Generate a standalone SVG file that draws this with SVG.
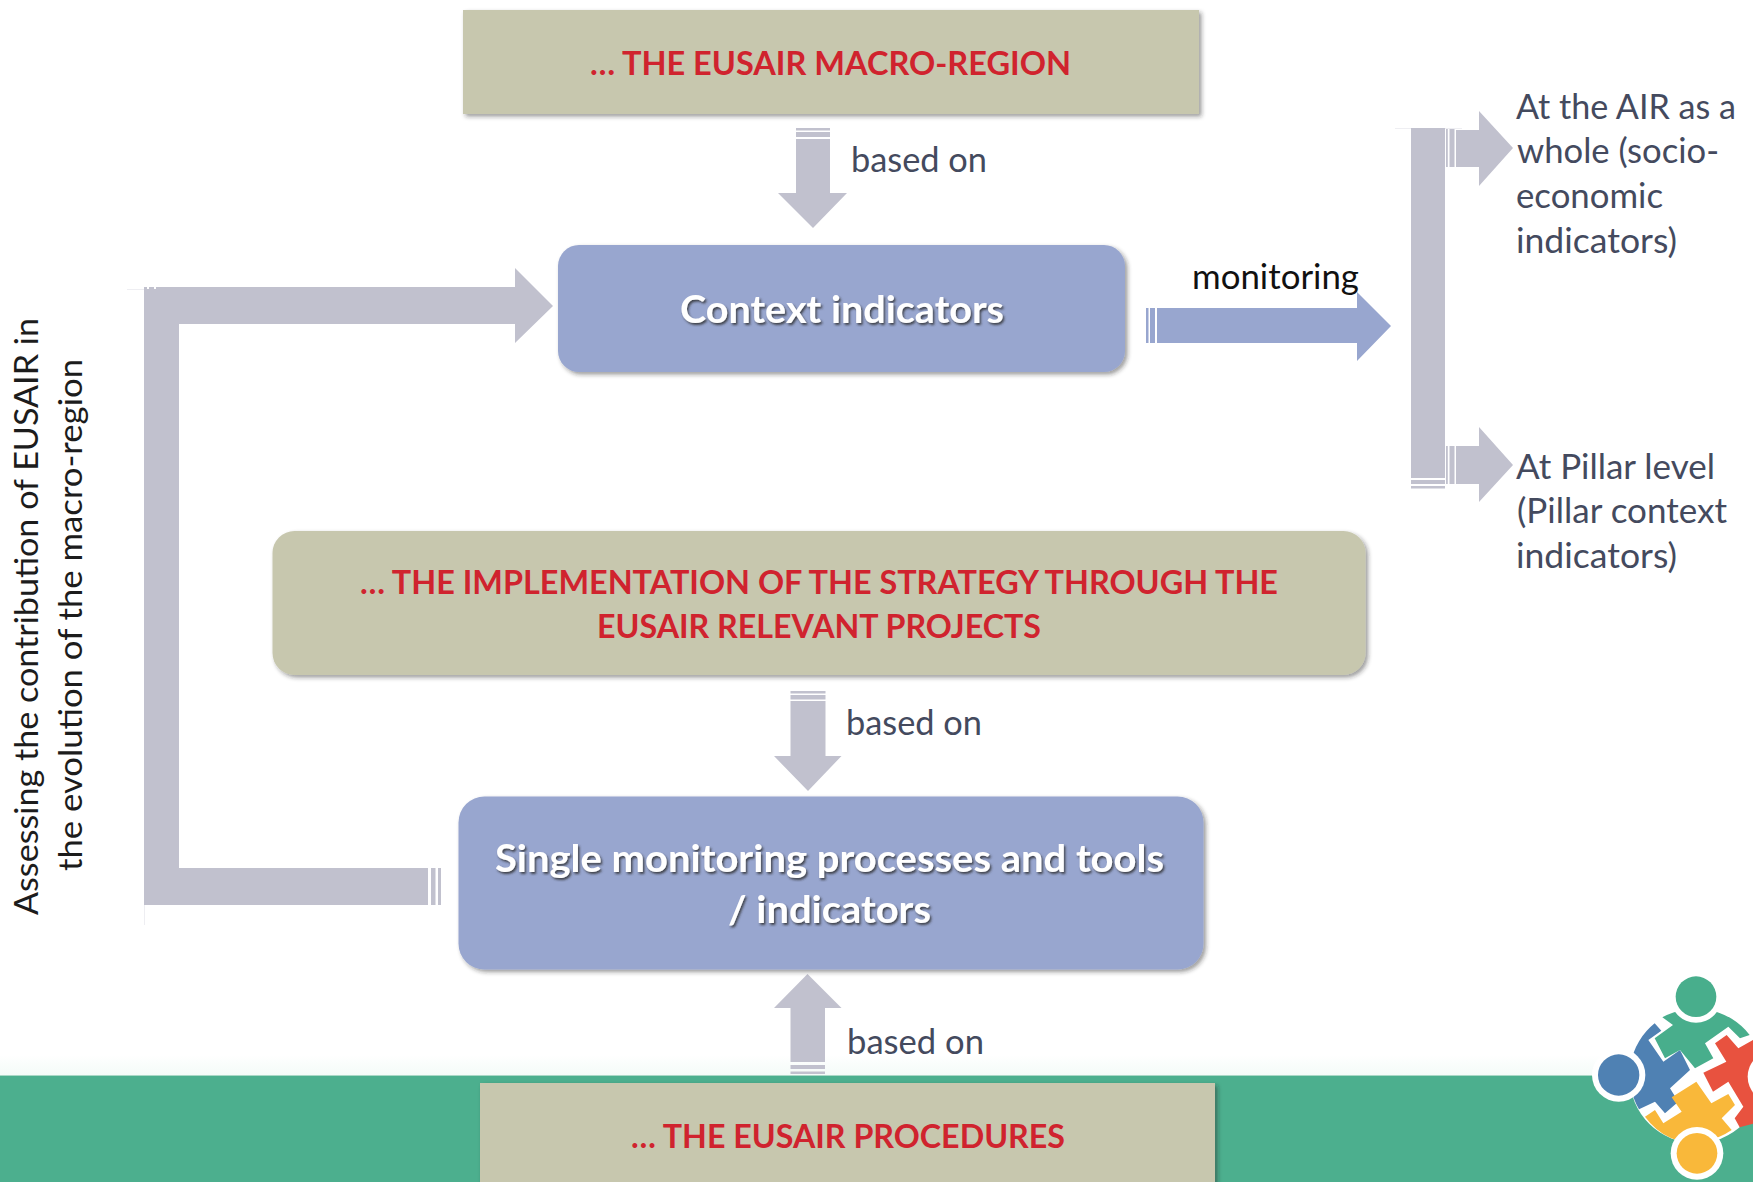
<svg xmlns="http://www.w3.org/2000/svg" width="1753" height="1182" viewBox="0 0 1753 1182">
<style>
text{font-family:Lato,"Liberation Sans",sans-serif}
.head{font-weight:700;font-size:33px;fill:#d0232e}
.white{font-weight:700;font-size:38px;fill:#fff;filter:url(#ts)}
.lab{font-size:34px;fill:#444a5e}
.blk{font-size:34px;fill:#111}
.side{font-size:33px;fill:#1c1c1c}
.ar{fill:#c1c1ce}
.ab{fill:#98a6cf}
.olive{fill:#c7c7ae;filter:url(#sh)}
.blue{fill:#98a6cf;filter:url(#sh)}
.faint{fill:#eeeef2}
</style>
<defs>
<filter id="sh" x="-5%" y="-10%" width="110%" height="120%"><feDropShadow dx="2.5" dy="2.5" stdDeviation="2" flood-color="#222" flood-opacity=".45"/></filter>
<filter id="ts" x="-5%" y="-15%" width="110%" height="130%"><feDropShadow dx="1.5" dy="2" stdDeviation="1" flood-color="#2a2a2a" flood-opacity=".8"/></filter>
<linearGradient id="pale" x1="0" y1="0" x2="0" y2="1"><stop offset="0" stop-color="#fff"/><stop offset="1" stop-color="#f4fbf8"/></linearGradient>
</defs>
<rect width="1753" height="1182" fill="#fff"/>
<g id="band">
<rect x="0" y="1055" width="1753" height="20" fill="url(#pale)"/>
<rect x="0" y="1075" width="1753" height="107" fill="#4caf8e"/>
<rect x="0" y="1075" width="1753" height="1" fill="#a9d8c6"/>
</g>
<g id="connectors">
<g id="arrow-macro-context">
<rect class="ar" x="796" y="128" width="34" height="2.5"/><rect class="ar" x="796" y="132" width="34" height="5"/>
<polygon class="ar" points="796,139 830,139 830,193 847,193 813,228 778,193 796,193"/>
<text class="lab" x="851" y="172" textLength="136" lengthAdjust="spacingAndGlyphs">based on</text>
</g>
<g id="arrow-context-monitoring">
<rect class="ab" x="1146" y="308" width="2.5" height="35"/><rect class="ab" x="1150" y="308" width="5" height="35"/>
<polygon class="ab" points="1157,308 1357,308 1357,292 1391,326 1357,361 1357,343 1157,343"/>
<text class="blk" x="1192" y="289" textLength="167" lengthAdjust="spacingAndGlyphs">monitoring</text>
</g>
<g id="arrow-branch">
<rect class="faint" x="1395" y="128" width="16" height="1"/>
<rect class="faint" x="1445" y="128" width="17" height="1"/>
<rect class="ar" x="1411" y="128" width="34" height="350"/>
<rect class="ar" x="1411" y="480" width="34" height="4"/><rect class="ar" x="1411" y="486" width="34" height="2.5"/>
<rect class="ar" x="1446" y="129" width="1.8" height="38"/><rect class="ar" x="1449.5" y="129" width="5" height="38"/>
<polygon class="ar" points="1456,130 1479,130 1479,111 1513,148 1479,186 1479,167 1456,167"/>
<rect class="ar" x="1446" y="446" width="1.8" height="38"/><rect class="ar" x="1449.5" y="446" width="5" height="38"/>
<polygon class="ar" points="1456,446 1479,446 1479,427 1513,465 1479,502 1479,484 1456,484"/>
</g>
<g id="arrow-feedback">
<rect class="faint" x="127" y="289" width="17" height="1"/>
<rect class="faint" x="144" y="905" width="1" height="20"/>
<polygon class="ar" points="144,287 515,287 515,268 553,306 515,343 515,324 179,324 179,868 428,868 428,905 144,905"/>
<rect class="ar" x="431" y="868" width="4.5" height="37"/><rect class="ar" x="438" y="868" width="3" height="37"/>
<rect x="147" y="287" width="2" height="2" fill="#fff"/><rect x="154" y="287" width="2" height="2" fill="#fff"/>
</g>
<g id="arrow-implementation-single">
<rect class="ar" x="790.500" y="691" width="35" height="2.500"/><rect class="ar" x="790.500" y="695" width="35" height="4.500"/>
<polygon class="ar" points="790.500,701 825.500,701 825.500,756 841.500,756 808,791 774,756 790.500,756"/>
<text class="lab" x="846" y="735" textLength="136" lengthAdjust="spacingAndGlyphs">based on</text>
</g>
<g id="arrow-procedures-single">
<polygon class="ar" points="790.500,1062 825,1062 825,1008 841.500,1008 807.500,974 774,1008 790.500,1008"/>
<rect class="ar" x="790.500" y="1065" width="34.500" height="4"/><rect class="ar" x="790.500" y="1071.500" width="34.500" height="2.500"/>
<text class="lab" x="847" y="1054" textLength="137" lengthAdjust="spacingAndGlyphs">based on</text>
</g>
</g>
<g id="node-macro-region">
<rect class="olive" x="463" y="10" width="736" height="104"/>
<text class="head" x="590" y="75" textLength="481" lengthAdjust="spacingAndGlyphs">… THE EUSAIR MACRO-REGION</text>
</g>
<g id="node-context">
<rect class="blue" x="558" y="245" width="567" height="127" rx="21"/>
<text class="white" x="680" y="323" textLength="324" lengthAdjust="spacingAndGlyphs">Context indicators</text>
</g>
<g id="node-implementation">
<rect class="olive" x="272.500" y="531" width="1093" height="144" rx="22"/>
<text class="head" x="360" y="594" textLength="918" lengthAdjust="spacingAndGlyphs">… THE IMPLEMENTATION OF THE STRATEGY THROUGH THE</text>
<text class="head" x="597" y="638" textLength="444" lengthAdjust="spacingAndGlyphs">EUSAIR RELEVANT PROJECTS</text>
</g>
<g id="node-single">
<rect class="blue" x="458.500" y="796.500" width="745" height="173" rx="26"/>
<text class="white" x="495" y="872" textLength="669" lengthAdjust="spacingAndGlyphs">Single monitoring processes and tools</text>
<text class="white" x="728" y="923" textLength="203" lengthAdjust="spacingAndGlyphs">/ indicators</text>
</g>
<g id="node-procedures">
<rect class="olive" x="480" y="1083" width="735" height="110"/>
<text class="head" x="631" y="1148" textLength="434" lengthAdjust="spacingAndGlyphs">… THE EUSAIR PROCEDURES</text>
</g>
<g id="node-air-whole">
<text class="lab" x="1516" y="119" textLength="220" lengthAdjust="spacingAndGlyphs">At the AIR as a</text>
<text class="lab" x="1517" y="163" textLength="202" lengthAdjust="spacingAndGlyphs">whole (socio-</text>
<text class="lab" x="1516" y="208" textLength="147" lengthAdjust="spacingAndGlyphs">economic</text>
<text class="lab" x="1516" y="253" textLength="161" lengthAdjust="spacingAndGlyphs">indicators)</text>
</g>
<g id="node-pillar">
<text class="lab" x="1516" y="479" textLength="199" lengthAdjust="spacingAndGlyphs">At Pillar level</text>
<text class="lab" x="1517" y="523" textLength="210" lengthAdjust="spacingAndGlyphs">(Pillar context</text>
<text class="lab" x="1516" y="568" textLength="161" lengthAdjust="spacingAndGlyphs">indicators)</text>
</g>
<g id="node-side-label">
<text class="side" transform="translate(38,915) rotate(-90)" textLength="597" lengthAdjust="spacingAndGlyphs">Assessing the contribution of EUSAIR in</text>
<text class="side" transform="translate(82,871) rotate(-90)" textLength="512" lengthAdjust="spacingAndGlyphs">the evolution of the macro-region</text>
</g>
<g id="logo" transform="translate(1553,960) scale(.33333)">
<circle cx="430" cy="350" r="200" fill="#fff"/>
<path fill="#4f81b3" d="M305 190L325 212L286 240L331 305L381 270L411 330L351 385L376 425L336 460L306 425L258 448A200 200 0 0 1 305 190Z"/>
<path fill="#48ae8c" d="M328 172A205 205 0 0 1 590 225L561 235L526 200L456 250L481 295L426 325L381 270L336 295L305 235L360 195Z"/>
<path fill="#e8523f" d="M486 250L521 225L556 265L600 240L640 220V480L560 502L545 475L571 440L526 365L480 395L451 338L520 305Z"/>
<path fill="#f9b83a" d="M276 470L306 450L331 490L386 455L356 412L430 365L475 430L526 402L546 435L506 475L536 510A200 200 0 0 1 355 535A200 200 0 0 1 276 470Z"/>
<circle cx="429" cy="110" r="78" fill="#fff"/><circle cx="429" cy="110" r="61" fill="#48ae8c"/>
<circle cx="197" cy="345" r="80" fill="#fff"/><circle cx="197" cy="345" r="62" fill="#4f81b3"/>
<circle cx="432" cy="580" r="79" fill="#fff"/><circle cx="432" cy="580" r="61" fill="#f9b83a"/>
<circle cx="662" cy="350" r="78" fill="#fff"/>
</g>
</svg>
